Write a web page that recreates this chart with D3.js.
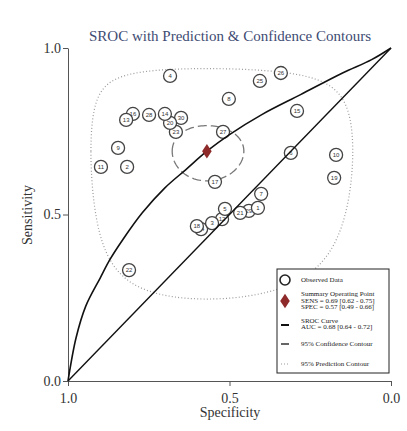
<!DOCTYPE html>
<html>
<head>
<meta charset="utf-8">
<script src="https://cdn.jsdelivr.net/npm/d3@7"></script>
<style>
  body { margin: 0; background: #fff; }
  text { font-family: "Liberation Serif", "Times New Roman", serif; }
</style>
</head>
<body>
<svg id="chart" width="407" height="431"></svg>
<script>
// observed studies
const studyIds = [1, 2, 3, 4, 5, 6, 7, 8, 9, 10, 11, 12, 13, 14, 15,
  16, 17, 18, 19, 20, 21, 22, 23, 24, 25, 26, 27, 28, 29, 30];
const specificity = [0.412, 0.817, 0.554, 0.684, 0.514, 0.310, 0.402, 0.502, 0.845, 0.170,
  0.898, 0.523, 0.820, 0.700, 0.291, 0.799, 0.545, 0.601, 0.176, 0.684,
  0.467, 0.811, 0.666, 0.588, 0.406, 0.341, 0.520, 0.749, 0.440, 0.650];
const sensitivity = [0.520, 0.643, 0.474, 0.916, 0.517, 0.685, 0.562, 0.847, 0.700, 0.679,
  0.643, 0.486, 0.784, 0.802, 0.811, 0.802, 0.598, 0.465, 0.610, 0.775,
  0.505, 0.333, 0.748, 0.456, 0.901, 0.925, 0.748, 0.799, 0.511, 0.790];

// summary operating point
const summarySpec = 0.57;
const summarySens = 0.69;

// SROC curve, points
const srocSpec = [1.00, 0.975, 0.945, 0.90, 0.87, 0.83, 0.77, 0.70, 0.635, 0.57, 0.50, 0.40, 0.28, 0.15, 0.06, 0.00];
const srocSens = [0.00, 0.13, 0.225, 0.31, 0.365, 0.425, 0.505, 0.58, 0.635, 0.69, 0.74, 0.80, 0.86, 0.925, 0.965, 1.00];

// contours: half widths on the logit scale [spec, sens]
const confidenceHalf = [0.46, 0.39];
const predictionHalf = [2.29, 1.92];

const tickValues = [0, 0.5, 1];
const legendLabels = [
  ["Observed Data"],
  ["Summary Operating Point", "SENS = 0.69 [0.62 - 0.75]", "SPEC = 0.57 [0.49 - 0.66]"],
  ["SROC Curve", "AUC = 0.68 [0.64 - 0.72]"],
  ["95% Confidence Contour"],
  ["95% Prediction Contour"]
];

const svg = d3.select("#chart");
const x = d3.scaleLinear().domain([1, 0]).range([68, 391]);
const y = d3.scaleLinear().domain([0, 1]).range([381, 48]);

// title
svg.append("text")
  .attr("x", 230).attr("y", 41)
  .attr("text-anchor", "middle")
  .style("font-size", "15px")
  .style("fill", "#3e4b73")
  .text("SROC with Prediction & Confidence Contours");

// axes
const fmt = d3.format(".1f");
const gy = svg.append("g")
  .attr("transform", "translate(68,0)")
  .call(d3.axisLeft(y).tickValues(tickValues).tickFormat(fmt).tickSize(5).tickSizeOuter(0).tickPadding(2));
const gx = svg.append("g")
  .attr("transform", "translate(0,381)")
  .call(d3.axisBottom(x).tickValues(tickValues).tickFormat(fmt).tickSize(5).tickSizeOuter(0).tickPadding(7));
[gx, gy].forEach((g) => {
  g.selectAll("path, line").attr("stroke", "#555");
  g.selectAll("text")
    .style("font-family", '"Liberation Serif", serif')
    .style("font-size", "14px")
    .style("fill", "#333");
});

svg.append("text")
  .attr("x", 230).attr("y", 417)
  .attr("text-anchor", "middle")
  .style("font-size", "14px").style("fill", "#333")
  .text("Specificity");
svg.append("text")
  .attr("transform", "translate(32,215) rotate(-90)")
  .attr("text-anchor", "middle")
  .style("font-size", "14px").style("fill", "#333")
  .text("Sensitivity");

// contours: ellipse on the logit scale, mapped back
const logit = (p) => Math.log(p / (1 - p));
const expit = (v) => 1 / (1 + Math.exp(-v));
function contour(half) {
  const cs = logit(summarySpec), ce = logit(summarySens);
  return d3.range(0, 361, 3).map((deg) => {
    const t = (deg * Math.PI) / 180;
    return [expit(cs + half[0] * Math.cos(t)), expit(ce + half[1] * Math.sin(t))];
  });
}
const line = d3.line().x((d) => x(d[0])).y((d) => y(d[1]));

svg.append("path")
  .attr("d", line(contour(predictionHalf)))
  .attr("fill", "none")
  .attr("stroke", "#9a9a9a")
  .attr("stroke-width", 1.2)
  .attr("stroke-dasharray", "1,2.2");

svg.append("path")
  .attr("d", line(contour(confidenceHalf)))
  .attr("fill", "none")
  .attr("stroke", "#777")
  .attr("stroke-width", 1.3)
  .attr("stroke-dasharray", "9,4");

// observed points (drawn from last to first so lower ids sit on top)
const pts = studyIds.map((id, i) => ({ id, spec: specificity[i], sens: sensitivity[i] })).reverse();
const pg = svg.append("g").selectAll("g").data(pts).join("g")
  .attr("transform", (d) => `translate(${x(d.spec)},${y(d.sens)})`);
pg.append("circle")
  .attr("r", 6.5)
  .attr("fill", "#fff")
  .attr("stroke", "#444")
  .attr("stroke-width", 1.3);
pg.append("text")
  .attr("text-anchor", "middle")
  .attr("dy", "0.35em")
  .style("font-family", '"Liberation Sans", Arial, sans-serif')
  .style("font-size", "6px")
  .style("fill", "#333")
  .text((d) => d.id);

// chance line and SROC curve
svg.append("path")
  .attr("d", line([[1, 0], [0, 1]]))
  .attr("stroke", "#111").attr("stroke-width", 1.4).attr("fill", "none");

const sroc = srocSpec.map((s, i) => [s, srocSens[i]]);
svg.append("path")
  .attr("d", line.curve(d3.curveCatmullRom)(sroc))
  .attr("stroke", "#111").attr("stroke-width", 1.6).attr("fill", "none");

// summary point
svg.append("path")
  .attr("d", d3.symbol(d3.symbolDiamond, 60)())
  .attr("transform", `translate(${x(summarySpec)},${y(summarySens)}) scale(1.15,1)`)
  .attr("fill", "#8e2a2a");

// legend
const lg = svg.append("g");
lg.append("rect")
  .attr("x", 277).attr("y", 269).attr("width", 112).attr("height", 104)
  .attr("fill", "#fff").attr("stroke", "#222").attr("stroke-width", 1);

const rowY = [280, 301, 325, 344, 364];
const textY = [[280], [294, 300.5, 307], [320.5, 327], [344], [364]];
lg.append("circle").attr("cx", 285).attr("cy", rowY[0]).attr("r", 5)
  .attr("fill", "#fff").attr("stroke", "#222").attr("stroke-width", 1.6);
lg.append("path")
  .attr("d", d3.symbol(d3.symbolDiamond, 60)())
  .attr("transform", `translate(285,${rowY[1]}) scale(1.15,1)`)
  .attr("fill", "#8e2a2a");
lg.append("line").attr("x1", 281).attr("x2", 289).attr("y1", rowY[2]).attr("y2", rowY[2])
  .attr("stroke", "#111").attr("stroke-width", 2);
lg.append("line").attr("x1", 281).attr("x2", 289).attr("y1", rowY[3]).attr("y2", rowY[3])
  .attr("stroke", "#666").attr("stroke-width", 2);
lg.append("line").attr("x1", 281).attr("x2", 290).attr("y1", rowY[4]).attr("y2", rowY[4])
  .attr("stroke", "#999").attr("stroke-width", 1.2).attr("stroke-dasharray", "1,2");

legendLabels.forEach((lines, i) => {
  lines.forEach((t, j) => {
    lg.append("text")
      .attr("x", 301).attr("y", textY[i][j])
      .attr("dy", "0.35em")
      .style("font-size", "7px")
      .style("fill", "#222")
      .text(t);
  });
});
</script>
</body>
</html>
